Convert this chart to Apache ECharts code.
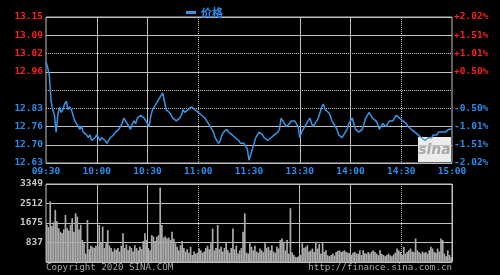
<!DOCTYPE html>
<html><head><meta charset="utf-8">
<script src="https://cdn.jsdelivr.net/npm/echarts@6/dist/echarts.min.js"></script>
<style>html,body{margin:0;padding:0;background:#000;}#c{width:500px;height:275px;}</style>
</head><body><div id="c"></div>
<script>
const prevClose = 12.89;
const priceMin = 12.63, priceMax = 13.15, priceStep = 0.065;
const volMax = 3349, volStep = 837.25;
const priceTickLabels = ['12.63','12.70','12.76','12.83','','12.96','13.02','13.09','13.15'];
const pctTickLabels = ['-2.02%','-1.51%','-1.01%','-0.50%','','+0.50%','+1.01%','+1.51%','+2.02%'];
const volTickLabels = ['','837','1675','2512','3349'];
const timeLabels = ['09:30','10:00','10:30','11:00','11:30','13:30','14:00','14:30','15:00'];

const priceMorning = [
12.99,12.97,12.94,12.85,12.82,12.80,12.74,12.80,12.83,12.81,
12.82,12.84,12.85,12.82,12.83,12.82,12.80,12.78,12.77,12.76,
12.75,12.76,12.74,12.74,12.73,12.72,12.73,12.71,12.71,12.72,
12.73,12.72,12.71,12.72,12.72,12.71,12.70,12.71,12.72,12.72,
12.73,12.74,12.74,12.75,12.76,12.77,12.79,12.78,12.78,12.76,
12.75,12.77,12.78,12.77,12.79,12.79,12.80,12.80,12.79,12.78,
12.77,12.76,12.80,12.82,12.83,12.84,12.84,12.86,12.87,12.88,
12.85,12.82,12.82,12.81,12.80,12.79,12.79,12.78,12.78,12.79,
12.80,12.82,12.81,12.81,12.82,12.82,12.83,12.83,12.82,12.82,
12.81,12.81,12.80,12.80,12.79,12.78,12.77,12.76,12.75,12.74,
12.72,12.71,12.70,12.71,12.73,12.74,12.74,12.75,12.74,12.74,
12.73,12.73,12.72,12.72,12.71,12.70,12.70,12.70,12.69,12.68,
12.64];
const priceAfternoon = [
12.66,12.68,12.70,12.72,12.73,12.74,12.74,12.73,12.72,12.72,
12.71,12.71,12.72,12.72,12.73,12.73,12.74,12.75,12.79,12.78,
12.77,12.76,12.76,12.77,12.78,12.78,12.78,12.77,12.76,12.72,
12.74,12.75,12.76,12.77,12.78,12.79,12.77,12.76,12.77,12.78,
12.79,12.81,12.83,12.84,12.82,12.82,12.81,12.80,12.78,12.77,
12.76,12.75,12.73,12.73,12.72,12.73,12.74,12.75,12.77,12.78,
12.79,12.77,12.75,12.75,12.74,12.74,12.75,12.77,12.79,12.80,
12.81,12.80,12.79,12.79,12.78,12.77,12.75,12.76,12.77,12.77,
12.76,12.77,12.78,12.78,12.78,12.79,12.80,12.80,12.79,12.79,
12.78,12.78,12.77,12.76,12.76,12.75,12.75,12.74,12.74,12.73,
12.73,12.72,12.72,12.71,12.71,12.72,12.72,12.72,12.73,12.73,
12.73,12.74,12.74,12.74,12.74,12.74,12.74,12.75,12.75,12.75];

const volMorning = [
1600,1500,2600,1550,1700,2240,1750,1450,1300,1250,
1400,2020,1450,1350,1600,1880,1300,2090,1950,1400,
1600,950,800,360,1800,550,700,650,600,700,
650,1590,820,1520,600,800,1370,700,600,450,
580,520,600,450,700,1230,600,750,520,680,
600,450,720,600,500,650,560,900,1230,940,
600,500,1150,1100,900,1080,1150,3200,1590,1050,
1100,1010,1050,950,1300,1000,800,650,500,720,
900,600,450,550,400,650,300,450,360,400,
580,500,400,450,600,700,550,800,1440,500,
600,1590,550,650,450,600,866,500,400,600,
1440,550,700,360,500,600,1300,2090,400,360];
const volAfternoon = [
800,650,500,700,450,400,580,500,420,800,
600,650,500,720,450,400,660,580,940,1010,
870,500,940,360,2310,420,300,220,217,250,
300,800,600,650,720,450,500,580,430,866,
580,780,360,866,430,500,290,250,300,360,
280,430,480,500,430,460,500,430,400,380,
300,400,430,360,350,500,300,505,380,360,
430,360,450,500,430,360,290,505,350,300,
250,300,360,290,250,320,400,580,500,430,
300,650,360,430,500,580,450,430,1010,500,
430,360,450,400,430,360,500,650,580,430,
400,580,450,1010,940,360,250,500,300,200];

function buildTimes(h, m, count) {
  const out = [];
  for (let k = 0; k < count; k++) {
    const t = h * 60 + m + k;
    out.push(String(Math.floor(t / 60)).padStart(2, '0') + ':' + String(t % 60).padStart(2, '0'));
  }
  return out;
}
const priceCats = buildTimes(9, 30, 121).concat(buildTimes(13, 1, 120));
const volCats = buildTimes(9, 31, 120).concat(buildTimes(13, 1, 120));
const solidX = [30, 60, 150, 180];
const dottedX = [90, 210];

const G = '#c0c0c0', T = 'rgba(0,0,0,0)';
const RED = '#ff1e1e', BLUE = '#2a8ef0', LINE = '#3a94e4', VOL = '#acacac', VLAB = '#c8c8c8';
const mono = 'DejaVu Sans Mono';
const lab = { fontFamily: mono, fontWeight: 'bold', fontSize: 9.5 };

function priceIdx(v) { return Math.round((v - priceMin) / priceStep); }

const chart = echarts.init(document.getElementById('c'), null, { renderer: 'canvas' });
chart.setOption({
  backgroundColor: '#000',
  animation: false,
  legend: {
    data: ['价格'], top: 2, left: 181, icon: 'rect', itemWidth: 10, itemHeight: 3,
    textStyle: { color: BLUE, fontSize: 11, fontWeight: 'bold', fontFamily: 'Noto Sans CJK SC' }
  },
  grid: [
    { left: 46, top: 17, width: 406, height: 146, show: true, borderColor: G, borderWidth: 1, backgroundColor: T },
    { left: 46, top: 184, width: 406, height: 78, show: true, borderColor: G, borderWidth: 1, backgroundColor: T }
  ],
  xAxis: [
    { gridIndex: 0, type: 'category', data: priceCats, boundaryGap: false,
      axisLine: { show: false }, axisTick: { show: false },
      axisLabel: Object.assign({ color: BLUE, margin: 4, interval: (i) => i % 30 === 0,
        formatter: (v, i) => timeLabels[Math.round(i / 30)] || '' }, lab),
      splitLine: { show: true, interval: (i) => solidX.includes(i), lineStyle: { color: G, width: 1 } } },
    { gridIndex: 0, type: 'category', data: priceCats, boundaryGap: false,
      axisLine: { show: false }, axisTick: { show: false }, axisLabel: { show: false },
      splitLine: { show: true, interval: (i) => dottedX.includes(i), lineStyle: { color: G, width: 1, type: 'dotted' } } },
    { gridIndex: 1, type: 'category', data: volCats, boundaryGap: true,
      axisLine: { show: false }, axisTick: { show: false }, axisLabel: { show: false },
      splitLine: { show: true, interval: (i) => solidX.includes(i), lineStyle: { color: G, width: 1 } } },
    { gridIndex: 1, type: 'category', data: volCats, boundaryGap: true,
      axisLine: { show: false }, axisTick: { show: false }, axisLabel: { show: false },
      splitLine: { show: true, interval: (i) => dottedX.includes(i), lineStyle: { color: G, width: 1, type: 'dotted' } } }
  ],
  yAxis: [
    { gridIndex: 0, type: 'value', position: 'left', min: priceMin, max: priceMax, interval: priceStep,
      axisLine: { show: false }, axisTick: { show: false },
      axisLabel: { margin: 3, formatter: (v) => { const k = priceIdx(v); const s = priceTickLabels[k] || ''; return s ? (k > 4 ? '{r|' + s + '}' : '{b|' + s + '}') : ''; },
        rich: { r: Object.assign({ color: RED }, lab), b: Object.assign({ color: BLUE }, lab) } },
      splitLine: { show: true, lineStyle: { color: [G, G, G, T, T, G, T, G, G], width: 1 } } },
    { gridIndex: 0, type: 'value', position: 'right', min: priceMin, max: priceMax, interval: priceStep,
      axisLine: { show: false }, axisTick: { show: false },
      axisLabel: { margin: 2, formatter: (v) => { const k = priceIdx(v); const s = pctTickLabels[k] || ''; return s ? (k > 4 ? '{r|' + s + '}' : '{b|' + s + '}') : ''; },
        rich: { r: Object.assign({ color: RED }, lab), b: Object.assign({ color: BLUE }, lab) } },
      splitLine: { show: false } },
    { gridIndex: 0, type: 'value', position: 'left', min: priceMin, max: priceMax, interval: priceStep,
      axisLine: { show: false }, axisTick: { show: false }, axisLabel: { show: false },
      splitLine: { show: true, lineStyle: { color: [T, T, T, G, G, T, G, T, T], width: 1, type: 'dotted' } } },
    { gridIndex: 1, type: 'value', min: 0, max: volMax, interval: volStep,
      axisLine: { show: false }, axisTick: { show: false },
      axisLabel: Object.assign({ color: VLAB, margin: 3, formatter: (v) => volTickLabels[Math.round(v / volStep)] || '' }, lab),
      splitLine: { show: true, lineStyle: { color: G, width: 1 } } }
  ],
  graphic: [
    { type: 'group', left: 418, top: 137, z: 1, children: [
      { type: 'rect', shape: { x: 0, y: 0, width: 33, height: 25 }, style: { fill: '#ececec' } },
      { type: 'text', x: 16.5, y: 13, style: { text: 'sina', fill: '#a8a8a8', font: 'italic bold 14px "DejaVu Sans"', textAlign: 'center', textVerticalAlign: 'middle' } }
    ] },
    { type: 'text', left: 46, top: 263, style: { text: 'Copyright 2020 SINA.COM', fill: '#a8a8a8', font: '9.2px "DejaVu Sans Mono"' } },
    { type: 'text', right: 48, top: 263, style: { text: 'http://finance.sina.com.cn', fill: '#a8a8a8', font: '9.2px "DejaVu Sans Mono"' } }
  ],
  series: [
    { name: '价格', type: 'line', xAxisIndex: 0, yAxisIndex: 0, data: priceMorning.concat(priceAfternoon),
      showSymbol: false, symbol: 'none', z: 5, lineStyle: { color: LINE, width: 1.5 }, itemStyle: { color: LINE } },
    { name: 'vol', type: 'bar', xAxisIndex: 2, yAxisIndex: 3, data: volMorning.concat(volAfternoon),
      barCategoryGap: '0%', itemStyle: { color: VOL }, z: 3 }
  ]
});
</script></body></html>
